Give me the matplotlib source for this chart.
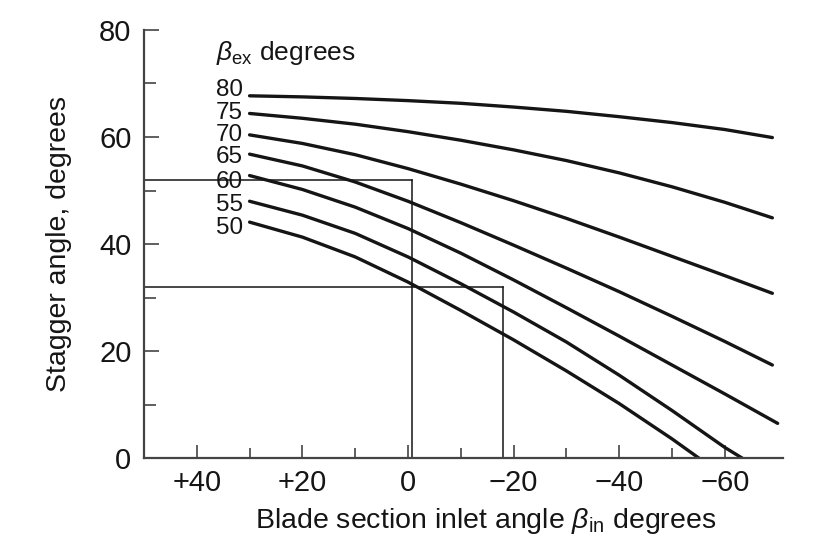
import matplotlib
matplotlib.use("Agg")
import matplotlib.pyplot as plt

plt.rcParams['font.family'] = ['Liberation Sans', 'DejaVu Sans']
plt.rcParams['mathtext.fontset'] = 'custom'
plt.rcParams['mathtext.rm'] = 'Liberation Sans'
plt.rcParams['mathtext.it'] = 'Liberation Sans:italic'

# blade inlet angle (deg)
x_pts = [30, 20, 10, 0, -10, -20, -30, -40, -50, -60, -69]

# stagger angle for each exit angle beta_ex
stagger_80 = [67.7, 67.5, 67.2, 66.8, 66.3, 65.6, 64.8, 63.8, 62.7, 61.4, 59.9]
stagger_75 = [64.4, 63.5, 62.4, 61.0, 59.4, 57.6, 55.6, 53.3, 50.7, 47.8, 44.9]
stagger_70 = [60.4, 58.8, 56.7, 54.1, 51.2, 48.1, 44.8, 41.3, 37.7, 34.1, 30.8]
stagger_65 = [56.8, 54.6, 51.6, 48.0, 44.0, 39.8, 35.5, 31.1, 26.5, 21.8, 17.4]
x_60 = [30, 20, 10, 0, -10, -20, -30, -40, -50, -60, -70]
stagger_60 = [52.8, 50.2, 46.9, 42.9, 38.3, 33.3, 28.1, 22.8, 17.4, 12.0, 6.5]
x_55 = [30, 20, 10, 0, -10, -20, -30, -40, -50, -60, -63.3]
stagger_55 = [48.0, 45.4, 42.0, 37.6, 32.6, 27.3, 21.7, 15.5, 8.9, 2.0, 0.0]
x_50 = [30, 20, 10, 0, -10, -20, -30, -40, -50, -55.1]
stagger_50 = [44.1, 41.3, 37.6, 32.9, 27.6, 22.1, 16.3, 10.2, 3.6, 0.0]

curve_labels = ['80', '75', '70', '65', '60', '55', '50']
label_y = [68.7, 64.5, 60.4, 56.3, 51.6, 47.3, 43.0]

# worked-example guide lines
guide_x = [-0.8, -17.9]
guide_y = [52, 32]

x_ticks = [40, 20, 0, -20, -40, -60]
x_tick_labels = ['+40', '+20', '0', '\u221220', '\u221240', '\u221260']
x_minor = [30, 10, -10, -30, -50]
y_ticks = [0, 20, 40, 60, 80]
y_minor = [10, 30, 50, 70]

ink = '#151515'
axis_col = '#444444'

fig = plt.figure(figsize=(8.25, 5.52), dpi=100)
ax = fig.add_axes([0.1745, 0.170, 0.7745, 0.7757])

curves = [
    (x_pts, stagger_80),
    (x_pts, stagger_75),
    (x_pts, stagger_70),
    (x_pts, stagger_65),
    (x_60, stagger_60),
    (x_55, stagger_55),
    (x_50, stagger_50),
]

for (xs, ys), lab, ly in zip(curves, curve_labels, label_y):
    ax.plot(xs, ys, color=ink, lw=2.4, solid_capstyle='round', solid_joinstyle='round')
    ax.annotate(lab, xy=(xs[0], ly), xytext=(-5, 0), textcoords='offset points',
                ha='right', va='center', fontsize=17.5, color=ink)

for gx, gy in zip(guide_x, guide_y):
    ax.plot([50, gx], [gy, gy], color=ink, lw=1.1)
    ax.plot([gx, gx], [0, gy], color=ink, lw=1.1)

ax.text(36.4, 75.7, r'$\beta_{\rm ex}$ degrees', ha='left', va='center',
        fontsize=19, color=ink)

ax.set_xlim(50, -71)
ax.set_ylim(0, 80)

ax.set_xticks(x_ticks)
ax.set_xticklabels(x_tick_labels)
ax.set_xticks(x_minor, minor=True)
ax.set_yticks(y_ticks)
ax.set_yticks(y_minor, minor=True)

ax.tick_params(axis='x', which='major', direction='in', length=9.5, width=1.2,
               color=axis_col, labelsize=21, labelcolor=ink, pad=8)
ax.tick_params(axis='x', which='minor', direction='in', length=7, width=1.2,
               color=axis_col)
ax.tick_params(axis='y', which='major', direction='in', length=11, width=1.2,
               color=axis_col, labelsize=21, labelcolor=ink, pad=9)
ax.tick_params(axis='y', which='minor', direction='in', length=8.5, width=1.2,
               color=axis_col)

for side in ['top', 'right']:
    ax.spines[side].set_visible(False)
for side in ['left', 'bottom']:
    ax.spines[side].set_color(axis_col)
    ax.spines[side].set_linewidth(1.6)

ax.set_xlabel(r'Blade section inlet angle $\beta_{\rm in}$ degrees', fontsize=20.5, color=ink)
ax.xaxis.set_label_coords(0.534, -0.112)
ax.set_ylabel('Stagger angle, degrees', fontsize=20.5, color=ink)
ax.yaxis.set_label_coords(-0.113, 0.5)

fig.savefig('out.png', dpi=100, facecolor='white')
